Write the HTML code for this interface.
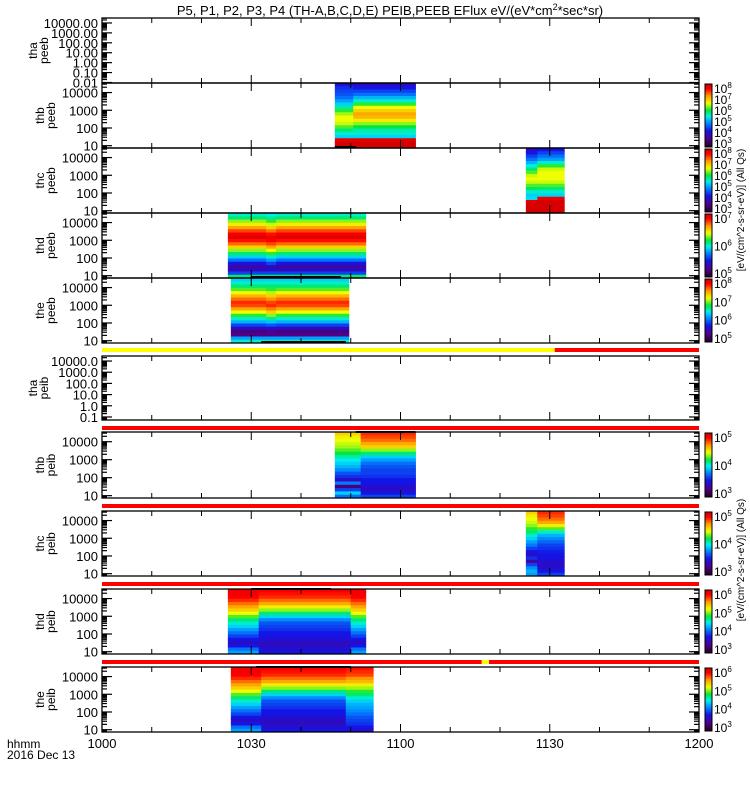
<!DOCTYPE html>
<html><head><meta charset="utf-8"><style>
body{margin:0;background:#fff}
svg{display:block;font-family:"Liberation Sans",sans-serif}
</style></head><body>
<svg id="chart" width="750" height="800" viewBox="0 0 750 800">
<text x="390" y="15" font-size="13" text-anchor="middle">P5, P1, P2, P3, P4 (TH-A,B,C,D,E) PEIB,PEEB EFlux eV/(eV*cm<tspan font-size="9" dy="-5">2</tspan><tspan dy="5">*sec*sr)</tspan></text>
<text x="7" y="748" font-size="12">hhmm</text>
<text x="7" y="759" font-size="12">2016 Dec 13</text>
<text transform="translate(744,210) rotate(-90)" font-size="10" text-anchor="middle">[eV/(cm^2-s-sr-eV)] (All Qs)</text>
<text transform="translate(744,560) rotate(-90)" font-size="10" text-anchor="middle">[eV/(cm^2-s-sr-eV)] (All Qs)</text>
<g id="g"></g>
</svg>
<script>
// ---- data ----
const xTimeRange = [0, 120]; // minutes after 10:00
const xTickLabels = ['1000','1030','1100','1130','1200'];
const xTickValues = [0,30,60,90,120];
const panelNames = ['tha peeb','thb peeb','thc peeb','thd peeb','the peeb','tha peib','thb peib','thc peib','thd peib','the peib'];
const yRanges = [[-2.05,4.5],[0.87,4.54],[0.87,4.54],[0.87,4.54],[0.87,4.54],[-1.27,4.45],[0.87,4.54],[0.87,4.54],[0.87,4.54],[0.87,4.54]];
const yLabelsA = ['10000.00','1000.00','100.00','10.00','1.00','0.10','0.01'];
const yLabelsA7 = ['10000.0','1000.0','100.0','10.0','1.0','0.1'];
const yLabelsStd = ['10000','1000','100','10'];
// spectrogram segments: [panelIndex, tStart, tEnd, profileIndex]
const segments = [
 [1,46.8,50.5,0],[1,50.5,63,1],
 [2,85.2,87.5,2],[2,87.5,92.9,3],
 [3,25.3,33,4],[3,33,35,5],[3,35,53,4],
 [4,25.9,33,6],[4,33,35,7],[4,35,49.6,6],
 [6,46.8,52,8],[6,52,63,9],
 [7,85.2,87.5,10],[7,87.5,92.9,11],
 [8,25.3,31.5,12],[8,31.5,50,13],[8,50,53,12],
 [9,25.9,32,12],[9,32,49,13],[9,49,54.5,14]
];
// energy-bin flux profiles (normalized 0..1, top bin to bottom bin)
const profiles = [
 [0.22,0.28,0.3,0.32,0.35,0.4,0.45,0.52,0.6,0.66,0.7,0.7,0.68,0.62,0.55,0.5,0.45,0.97,1,1],
 [0.2,0.25,0.3,0.35,0.42,0.5,0.6,0.7,0.75,0.8,0.78,0.72,0.65,0.58,0.52,0.5,0.45,0.98,1,1],
 [0.2,0.25,0.3,0.35,0.42,0.48,0.55,0.62,0.68,0.7,0.68,0.62,0.56,0.5,0.45,0.46,0.98,1,1,1],
 [0.25,0.3,0.35,0.4,0.5,0.6,0.68,0.7,0.7,0.7,0.68,0.62,0.55,0.5,0.45,0.96,1,1,1,1],
 [0.5,0.55,0.65,0.72,0.8,0.88,0.95,0.98,0.92,0.85,0.75,0.65,0.55,0.45,0.35,0.25,0.15,0.2,0.3,0.55],
 [0.48,0.53,0.6,0.68,0.75,0.84,0.92,0.95,0.94,0.88,0.8,0.7,0.6,0.5,0.4,0.3,0.2,0.2,0.3,0.55],
 [0.45,0.5,0.55,0.62,0.7,0.78,0.85,0.9,0.88,0.8,0.7,0.6,0.5,0.42,0.3,0.2,0.1,0.12,0.4,0.5],
 [0.45,0.5,0.55,0.6,0.67,0.75,0.82,0.88,0.9,0.84,0.75,0.65,0.53,0.44,0.32,0.22,0.12,0.12,0.4,0.5],
 [0.75,0.72,0.7,0.68,0.66,0.62,0.58,0.52,0.48,0.45,0.42,0.38,0.32,0.28,0.2,0.36,0.1,0.3,0.45,0.35],
 [0.9,0.88,0.85,0.8,0.75,0.65,0.55,0.45,0.4,0.35,0.32,0.3,0.3,0.28,0.25,0.25,0.22,0.2,0.25,0.3],
 [0.75,0.72,0.7,0.68,0.65,0.6,0.55,0.5,0.45,0.4,0.36,0.3,0.25,0.2,0.28,0.15,0.3,0.38,0.42,0.4],
 [0.9,0.88,0.85,0.8,0.72,0.62,0.5,0.42,0.38,0.34,0.3,0.28,0.26,0.25,0.24,0.22,0.2,0.22,0.25,0.3],
 [0.95,0.95,0.93,0.9,0.85,0.8,0.75,0.7,0.62,0.55,0.5,0.45,0.4,0.35,0.3,0.25,0.2,0.25,0.35,0.4],
 [0.95,0.92,0.9,0.85,0.8,0.72,0.65,0.55,0.45,0.38,0.32,0.3,0.28,0.25,0.25,0.22,0.2,0.2,0.22,0.25],
 [0.92,0.9,0.88,0.82,0.78,0.72,0.66,0.6,0.55,0.5,0.45,0.42,0.4,0.38,0.35,0.32,0.3,0.28,0.25,0.22]
];
// potential / status lines: [panelIndex, tStart, tEnd, atTop]
const potLines = [[1,46.8,51,0],[3,30,48,0],[4,32,49,0],[6,51,63,1],[8,30,46,1],[9,31,50,1]];
// status bars: [y, tStart, tEnd, color]
const statusBars = [[348,0,91,'#ffff00'],[348,91,120,'#ff0000'],[426,0,120,'#ff0000'],[504,0,120,'#ff0000'],[582,0,120,'#ff0000'],[660,0,120,'#ff0000'],[660,76.3,77.8,'#ffff00']];
// colorbars: [panelIndex, exponents]
const colorbars = [[1,[8,7,6,5,4,3]],[2,[8,7,6,5,4,3]],[3,[7,6,5]],[4,[8,7,6,5]],[6,[5,4,3]],[7,[5,4,3]],[8,[6,5,4,3]],[9,[6,5,4,3]]];

// ---- layout ----
const X0=102, X1=699;
const panelTops=[18,83,148,213,278,356,432,511,589,667];
const panelBots=[83,148,213,278,343,420,498,576,654,732];
const NS='http://www.w3.org/2000/svg';
const g=document.getElementById('g');
function el(t,a){const e=document.createElementNS(NS,t);for(const k in a)e.setAttribute(k,a[k]);g.appendChild(e);return e;}
const xs=t=>X0+(t-xTimeRange[0])/(xTimeRange[1]-xTimeRange[0])*(X1-X0);
function ys(p,v){const[a,b]=yRanges[p];return panelBots[p]-(v-a)/(b-a)*(panelBots[p]-panelTops[p]);}
const stops=[[0,[40,0,40]],[0.12,[80,0,140]],[0.25,[20,20,230]],[0.38,[0,140,255]],[0.48,[0,240,240]],[0.58,[0,230,60]],[0.7,[240,255,0]],[0.82,[255,150,0]],[0.93,[255,0,0]],[1,[215,0,0]]];
function cmap(v){v=Math.max(0,Math.min(1,v));for(let i=1;i<stops.length;i++){if(v<=stops[i][0]){const[a,c1]=stops[i-1],[b,c2]=stops[i];const f=(v-a)/(b-a);return 'rgb('+c1.map((c,j)=>Math.round(c+(c2[j]-c)*f)).join(',')+')';}}return 'rgb(215,0,0)';}

statusBars.forEach(s=>{const r=el('rect',{x:xs(s[1]),y:s[0],width:xs(s[2])-xs(s[1]),height:4,fill:s[3]});

});

segments.forEach(s=>{const[p,t0,t1,pi]=s;const prof=profiles[pi];const n=prof.length;const top=panelTops[p],bot=panelBots[p];const h=(bot-top)/n;
prof.forEach((v,i)=>{const r=el('rect',{x:xs(t0),y:top+i*h,width:xs(t1)-xs(t0)+0.5,height:h+0.5,fill:cmap(v)});

});});

potLines.forEach(l=>{const[p,t0,t1,top]=l;const y=top?panelTops[p]-1:panelBots[p]-2;const r=el('rect',{x:xs(t0),y:y,width:xs(t1)-xs(t0),height:2,fill:'#000'});

});

panelNames.forEach((nm,p)=>{const top=panelTops[p],bot=panelBots[p];
const box=el('rect',{x:X0,y:top,width:X1-X0,height:bot-top,fill:'none',stroke:'#000','stroke-width':1.3});


const[a,b]=yRanges[p];
for(let d=Math.floor(a);d<=Math.ceil(b);d++){for(let m=1;m<10;m++){const v=d+Math.log10(m);if(v<a||v>b)continue;const y=ys(p,v);const L=m==1?10:5;
el('line',{x1:X0,x2:X0+L,y1:y,y2:y,stroke:'#000','stroke-width':1.2});
el('line',{x1:X1-L,x2:X1,y1:y,y2:y,stroke:'#000','stroke-width':1.2});}}
const labs=p==0?yLabelsA:(p==5?yLabelsA7:yLabelsStd);
labs.forEach((lab,i)=>{const v=4-i;const t=el('text',{x:X0-4,y:ys(p,v)+5,'font-size':13,'text-anchor':'end'});t.textContent=lab;

});
const parts=nm.split(' ');const cy=(top+bot)/2;
const yl=el('text',{transform:'translate(0,'+cy+') rotate(-90)','font-size':12,'text-anchor':'middle'});
const s1=document.createElementNS(NS,'tspan');s1.setAttribute('x',0);s1.setAttribute('y',p==0||p==5?37:44);s1.textContent=parts[0];yl.appendChild(s1);
const s2=document.createElementNS(NS,'tspan');s2.setAttribute('x',0);s2.setAttribute('y',p==0||p==5?48:55);s2.textContent=parts[1];yl.appendChild(s2);


for(let t=0;t<=120;t+=10){const x=xs(t);const L=t%30==0?8:5;
el('line',{x1:x,x2:x,y1:top,y2:top+L,stroke:'#000'});el('line',{x1:x,x2:x,y1:bot-L,y2:bot,stroke:'#000'});}
});
xTickValues.forEach((v,i)=>{const t=el('text',{x:xs(v),y:748,'font-size':13,'text-anchor':'middle'});t.textContent=xTickLabels[i];

});

colorbars.forEach(c=>{const[p,ex]=c;const top=panelTops[p]+1,bot=panelBots[p]-1;const n=40;const h=(bot-top)/n;
for(let i=0;i<n;i++){el('rect',{x:705,y:top+i*h,width:7,height:h+0.4,fill:cmap(1-i/(n-1))});}
const fr=el('rect',{x:705,y:top,width:7,height:bot-top,fill:'none',stroke:'#000'});


ex.forEach((e,i)=>{const y=top+6+i*(bot-top-8)/Math.max(1,ex.length-1);const t=el('text',{x:714,y:y+3,'font-size':12});t.textContent='10';
const sp=document.createElementNS(NS,'tspan');sp.setAttribute('dy','-5');sp.setAttribute('font-size','8');sp.textContent=e;t.appendChild(sp);

});});
</script>
</body></html>
